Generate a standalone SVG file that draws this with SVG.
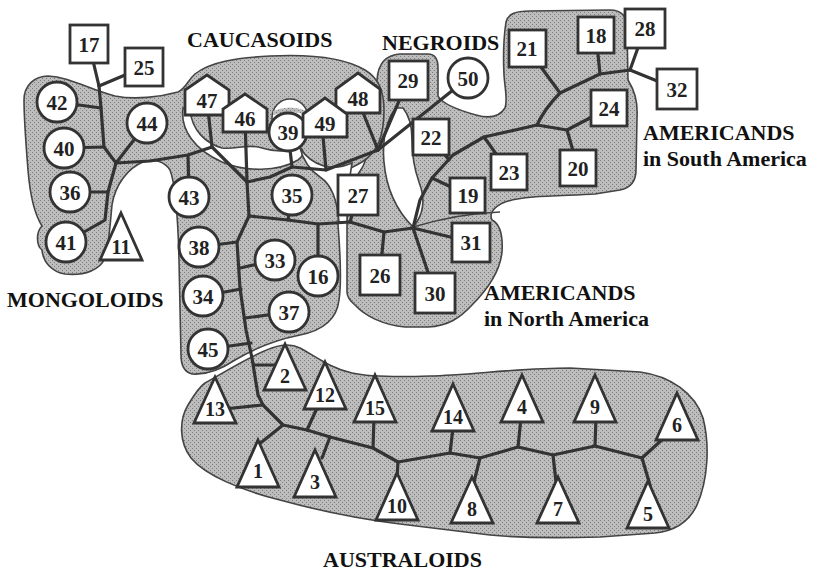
<svg xmlns="http://www.w3.org/2000/svg" width="815" height="572" viewBox="0 0 815 572">
<style>
.reg{fill:url(#dots);stroke:#444;stroke-width:1.6}
.hole{fill:#fff;stroke:#444;stroke-width:1.6}
.thin{fill:none;stroke:#444;stroke-width:1.4}
.e{fill:none;stroke:#333;stroke-width:3.2;stroke-linejoin:round;stroke-linecap:round}
.n{fill:#fff;stroke:#333;stroke-width:2.8;stroke-linejoin:miter}
.t{font-family:"Liberation Serif","Times New Roman",serif;font-weight:bold;font-size:21px;fill:#222;text-anchor:middle}
.tt{font-family:"Liberation Serif","Times New Roman",serif;font-weight:bold;font-size:20px;fill:#222;text-anchor:middle}
.lab{font-family:"Liberation Serif","Times New Roman",serif;font-weight:bold;font-size:22px;fill:#111}
</style>
<defs>
<pattern id="dots" width="4" height="4" patternUnits="userSpaceOnUse">
<rect width="4" height="4" fill="#bdbdbd"/>
<rect x="0" y="0" width="1" height="1" fill="#7c7c7c"/>
<rect x="2" y="2" width="1" height="1" fill="#7c7c7c"/>
</pattern>
</defs>
<rect width="815" height="572" fill="#fff"/>
<g id="regions">
<path class="reg" d="M347,292 L347,222 C347,200 352,182 362,168 C372,150 375,110 377,80 C378,64 386,55 400,54 L428,54 C435,54 438,60 438,68 L438,96 C442,104 458,110 476,115 C490,119 500,116 505,108 C508,100 505,90 504,75 C503,55 504,35 506,22 C508,14 515,11 530,11 L610,10 C621,10 627,16 627,28 L628,80 C634,90 638,100 637,118 L636,170 C636,182 630,188 620,190 L595,194 C565,196 525,195 505,202 C493,207 489,214 492,220 C500,224 503,236 502,252 C500,272 487,290 472,305 C460,318 448,326 428,327 L405,327 C383,325 365,316 355,305 C349,300 347,296 347,292 Z"/>
<path class="reg" d="M24,100 C24,85 35,76 48,76 C70,77 90,90 115,96 C135,100 160,97 178,92 C186,88 188,80 195,74 C210,62 235,58 270,56 C310,54 345,58 365,70 C378,78 384,90 384,110 C384,135 378,152 362,162 C352,168 345,170 340,175 L338,225 C340,250 342,280 339,300 C337,318 325,330 300,335 C275,340 255,348 235,360 C220,370 205,375 192,374 C184,372 181,365 181,355 L179,260 C178,220 176,185 170,170 C165,162 155,158 143,162 C128,168 115,185 112,205 C110,225 109,245 105,258 C100,270 85,276 65,274 C52,272 43,262 42,250 C36,245 36,232 42,226 C35,215 30,195 28,170 C26,145 24,120 24,100 Z"/>
<path class="reg" d="M205,383 C218,376 240,362 262,352 C275,346 288,342 300,348 C315,356 330,368 352,373 C370,377 400,377 430,376 C470,375 520,368 570,368 L640,372 C670,376 695,393 703,418 C710,445 708,480 697,505 C689,522 675,531 655,533 L600,537 C560,538 520,538 490,535 L400,524 C360,519 320,511 280,500 C240,490 205,475 191,458 C179,442 179,420 188,405 C194,395 199,387 205,383 Z"/>
<path class="hole" d="M183,108 C180,130 195,150 222,162 C245,172 278,172 298,160 C305,155 304,148 298,147 C288,152 275,152 262,148 C248,143 236,150 222,148 C205,143 192,130 190,110 Z"/>
<ellipse class="hole" cx="290" cy="118" rx="18" ry="19"/>
<path d="M273,111 Q290,104 307,111 L307,115 Q290,109 273,115 Z" fill="url(#dots)"/>
<path class="hole" d="M300,148 C312,166 332,172 352,163 C349,180 347,200 347,222 L339,222 C337,200 332,185 320,177 C310,170 303,160 300,148 Z"/>
<path class="hole" d="M396,108 C378,128 376,190 413,227 C426,212 424,195 419,182 C414,168 412,155 412,140 C412,125 408,114 403,108 Z"/>
<path class="thin" d="M413,227 C440,219 470,213 500,212"/>
</g>
<g id="connectors">
<path class="e" d="M89,44 L99,86"/>
<path class="e" d="M144,67 L99,86"/>
<path class="e" d="M99,86 L101,108 L104,147 L116,163"/>
<path class="e" d="M57,102 L101,108"/>
<path class="e" d="M64,148 L104,147"/>
<path class="e" d="M147,123 L116,163"/>
<path class="e" d="M116,163 L108,192 L105,220 Q95,226 66,242"/>
<path class="e" d="M70,192 L108,192"/>
<path class="e" d="M116,163 L150,161 L188,155 L212,147"/>
<path class="e" d="M189,197 L188,155"/>
<path class="e" d="M207,100 L212,147"/>
<path class="e" d="M212,147 L247,182"/>
<path class="e" d="M245,118 L247,182"/>
<path class="e" d="M247,182 L270,177 L292,167 L326,170 L378,150"/>
<path class="e" d="M288,132 L292,167"/>
<path class="e" d="M322,125 L326,170"/>
<path class="e" d="M358,100 L378,150"/>
<path class="e" d="M408,80 L378,150"/>
<path class="e" d="M468,78 L378,150"/>
<path class="e" d="M247,182 L249,216 L237,242 L240,288 L246,330 L252,358 L258,395 L263,405"/>
<path class="e" d="M249,216 L288,220 L318,224 L350,222 L384,232 L413,228"/>
<path class="e" d="M292,195 L288,220"/>
<path class="e" d="M318,276 L318,224"/>
<path class="e" d="M358,195 L350,222"/>
<path class="e" d="M380,275 L384,232"/>
<path class="e" d="M199,247 L237,242"/>
<path class="e" d="M203,296 L241,289"/>
<path class="e" d="M275,260 L240,268"/>
<path class="e" d="M289,312 L245,318"/>
<path class="e" d="M208,349 L251,343"/>
<path class="e" d="M254,365 L283,365"/>
<path class="e" d="M215,410 L263,405"/>
<path class="e" d="M263,405 L272,414 L283,425 L307,430 L330,437 L373,448 L398,462 L450,453 L480,458 L518,447 L553,455 L595,446 L642,458"/>
<path class="e" d="M283,425 L258,445"/>
<path class="e" d="M307,430 L318,406"/>
<path class="e" d="M330,437 L322,458"/>
<path class="e" d="M373,448 L374,418"/>
<path class="e" d="M398,462 L397,478"/>
<path class="e" d="M450,453 L453,428"/>
<path class="e" d="M480,458 L474,482"/>
<path class="e" d="M518,447 L521,418"/>
<path class="e" d="M553,455 L556,482"/>
<path class="e" d="M595,446 L596,418"/>
<path class="e" d="M642,458 L665,437"/>
<path class="e" d="M642,458 L650,485"/>
<path class="e" d="M645,28 L630,70"/>
<path class="e" d="M677,89 L630,70"/>
<path class="e" d="M630,70 L600,74 L560,93 Q545,108 537,125"/>
<path class="e" d="M596,35 L600,74"/>
<path class="e" d="M527,48 L560,93"/>
<path class="e" d="M537,125 L567,130 L609,108"/>
<path class="e" d="M567,130 L578,168"/>
<path class="e" d="M537,125 L484,137 L453,155 L432,178 L420,200 L413,228"/>
<path class="e" d="M509,172 L484,137"/>
<path class="e" d="M431,137 L449,160"/>
<path class="e" d="M468,195 L432,178"/>
<path class="e" d="M413,228 L471,242"/>
<path class="e" d="M413,228 L435,293"/>
</g>
<g id="nodes">
<g id="n17"><rect class="n" x="70" y="25" width="38" height="38"/><text class="t" x="89" y="52">17</text></g>
<g id="n25"><rect class="n" x="125" y="48" width="38" height="38"/><text class="t" x="144" y="75">25</text></g>
<g id="n29"><rect class="n" x="389" y="61" width="39" height="39"/><text class="t" x="408" y="88">29</text></g>
<g id="n21"><rect class="n" x="509" y="30" width="37" height="37"/><text class="t" x="527" y="56">21</text></g>
<g id="n18"><rect class="n" x="578" y="17" width="36" height="36"/><text class="t" x="596" y="43">18</text></g>
<g id="n28"><rect class="n" x="625" y="9" width="40" height="39"/><text class="t" x="645" y="36">28</text></g>
<g id="n32"><rect class="n" x="657" y="69" width="40" height="40"/><text class="t" x="677" y="97">32</text></g>
<g id="n24"><rect class="n" x="591" y="90" width="36" height="36"/><text class="t" x="609" y="116">24</text></g>
<g id="n20"><rect class="n" x="560" y="150" width="36" height="36"/><text class="t" x="578" y="176">20</text></g>
<g id="n23"><rect class="n" x="491" y="154" width="36" height="36"/><text class="t" x="509" y="180">23</text></g>
<g id="n22"><rect class="n" x="413" y="119" width="36" height="36"/><text class="t" x="431" y="145">22</text></g>
<g id="n19"><rect class="n" x="450" y="178" width="35" height="35"/><text class="t" x="468" y="203">19</text></g>
<g id="n27"><rect class="n" x="338" y="175" width="40" height="40"/><text class="t" x="358" y="203">27</text></g>
<g id="n31"><rect class="n" x="452" y="223" width="38" height="39"/><text class="t" x="471" y="250">31</text></g>
<g id="n26"><rect class="n" x="360" y="255" width="40" height="40"/><text class="t" x="380" y="283">26</text></g>
<g id="n30"><rect class="n" x="415" y="273" width="40" height="40"/><text class="t" x="435" y="301">30</text></g>
<g id="n42"><circle class="n" cx="57" cy="102" r="20"/><text class="t" x="57" y="110">42</text></g>
<g id="n40"><circle class="n" cx="64" cy="148" r="20"/><text class="t" x="64" y="156">40</text></g>
<g id="n36"><circle class="n" cx="70" cy="192" r="20"/><text class="t" x="70" y="200">36</text></g>
<g id="n41"><circle class="n" cx="66" cy="242" r="20"/><text class="t" x="66" y="250">41</text></g>
<g id="n44"><circle class="n" cx="147" cy="123" r="20"/><text class="t" x="147" y="131">44</text></g>
<g id="n43"><circle class="n" cx="189" cy="197" r="20"/><text class="t" x="189" y="205">43</text></g>
<g id="n38"><circle class="n" cx="199" cy="247" r="20"/><text class="t" x="199" y="255">38</text></g>
<g id="n34"><circle class="n" cx="203" cy="296" r="20"/><text class="t" x="203" y="304">34</text></g>
<g id="n45"><circle class="n" cx="208" cy="349" r="20"/><text class="t" x="208" y="357">45</text></g>
<g id="n35"><circle class="n" cx="292" cy="195" r="20"/><text class="t" x="292" y="203">35</text></g>
<g id="n33"><circle class="n" cx="275" cy="260" r="20"/><text class="t" x="275" y="268">33</text></g>
<g id="n16"><circle class="n" cx="318" cy="276" r="20"/><text class="t" x="318" y="284">16</text></g>
<g id="n37"><circle class="n" cx="289" cy="312" r="20"/><text class="t" x="289" y="320">37</text></g>
<g id="n50"><circle class="n" cx="468" cy="78" r="20"/><text class="t" x="468" y="86">50</text></g>
<g id="n47"><polygon class="n" points="185,115 185,90 207,75 229,90 229,115"/><text class="t" x="207" y="108">47</text></g>
<g id="n46"><polygon class="n" points="223,132 223,109 245,94 267,109 267,132"/><text class="t" x="245" y="126">46</text></g>
<g id="n48"><polygon class="n" points="336,113 336,89 358,73 380,89 380,113"/><text class="t" x="358" y="106">48</text></g>
<g id="n39"><circle class="n" cx="288" cy="132" r="19"/><text class="t" x="288" y="140">39</text></g>
<g id="n49"><polygon class="n" points="303,137 303,114 325,98 347,114 347,137"/><text class="t" x="325" y="131">49</text></g>
<g id="n11"><polygon class="n" points="121,213 142,260 100,260"/><text class="tt" x="121" y="254">11</text></g>
<g id="n2"><polygon class="n" points="285,344 306,390 264,390"/><text class="tt" x="285" y="383">2</text></g>
<g id="n13"><polygon class="n" points="215,377 236,423 194,423"/><text class="tt" x="215" y="416">13</text></g>
<g id="n12"><polygon class="n" points="325,362 346,409 304,409"/><text class="tt" x="325" y="402">12</text></g>
<g id="n15"><polygon class="n" points="375,375 396,422 354,422"/><text class="tt" x="375" y="415">15</text></g>
<g id="n14"><polygon class="n" points="453,384 474,431 432,431"/><text class="tt" x="453" y="424">14</text></g>
<g id="n1"><polygon class="n" points="258,440 279,487 237,487"/><text class="tt" x="258" y="478">1</text></g>
<g id="n3"><polygon class="n" points="315,450 336,497 294,497"/><text class="tt" x="315" y="489">3</text></g>
<g id="n10"><polygon class="n" points="397,473 418,520 376,520"/><text class="tt" x="397" y="513">10</text></g>
<g id="n8"><polygon class="n" points="472,477 493,523 451,523"/><text class="tt" x="472" y="516">8</text></g>
<g id="n4"><polygon class="n" points="522,375 543,422 501,422"/><text class="tt" x="522" y="414">4</text></g>
<g id="n9"><polygon class="n" points="595,375 616,422 574,422"/><text class="tt" x="595" y="414">9</text></g>
<g id="n6"><polygon class="n" points="677,393 698,440 656,440"/><text class="tt" x="677" y="432">6</text></g>
<g id="n7"><polygon class="n" points="558,477 579,523 537,523"/><text class="tt" x="558" y="516">7</text></g>
<g id="n5"><polygon class="n" points="648,481 669,528 627,528"/><text class="tt" x="648" y="521">5</text></g>
</g>
<g id="labels">
<text class="lab" x="187" y="47">CAUCASOIDS</text>
<text class="lab" x="382" y="50">NEGROIDS</text>
<text class="lab" x="7" y="307">MONGOLOIDS</text>
<text class="lab" x="323" y="567">AUSTRALOIDS</text>
<text class="lab" x="643" y="140">AMERICANDS</text>
<text class="lab" x="643" y="166">in South America</text>
<text class="lab" x="484" y="300">AMERICANDS</text>
<text class="lab" x="484" y="326">in North America</text>
</g>
</svg>
